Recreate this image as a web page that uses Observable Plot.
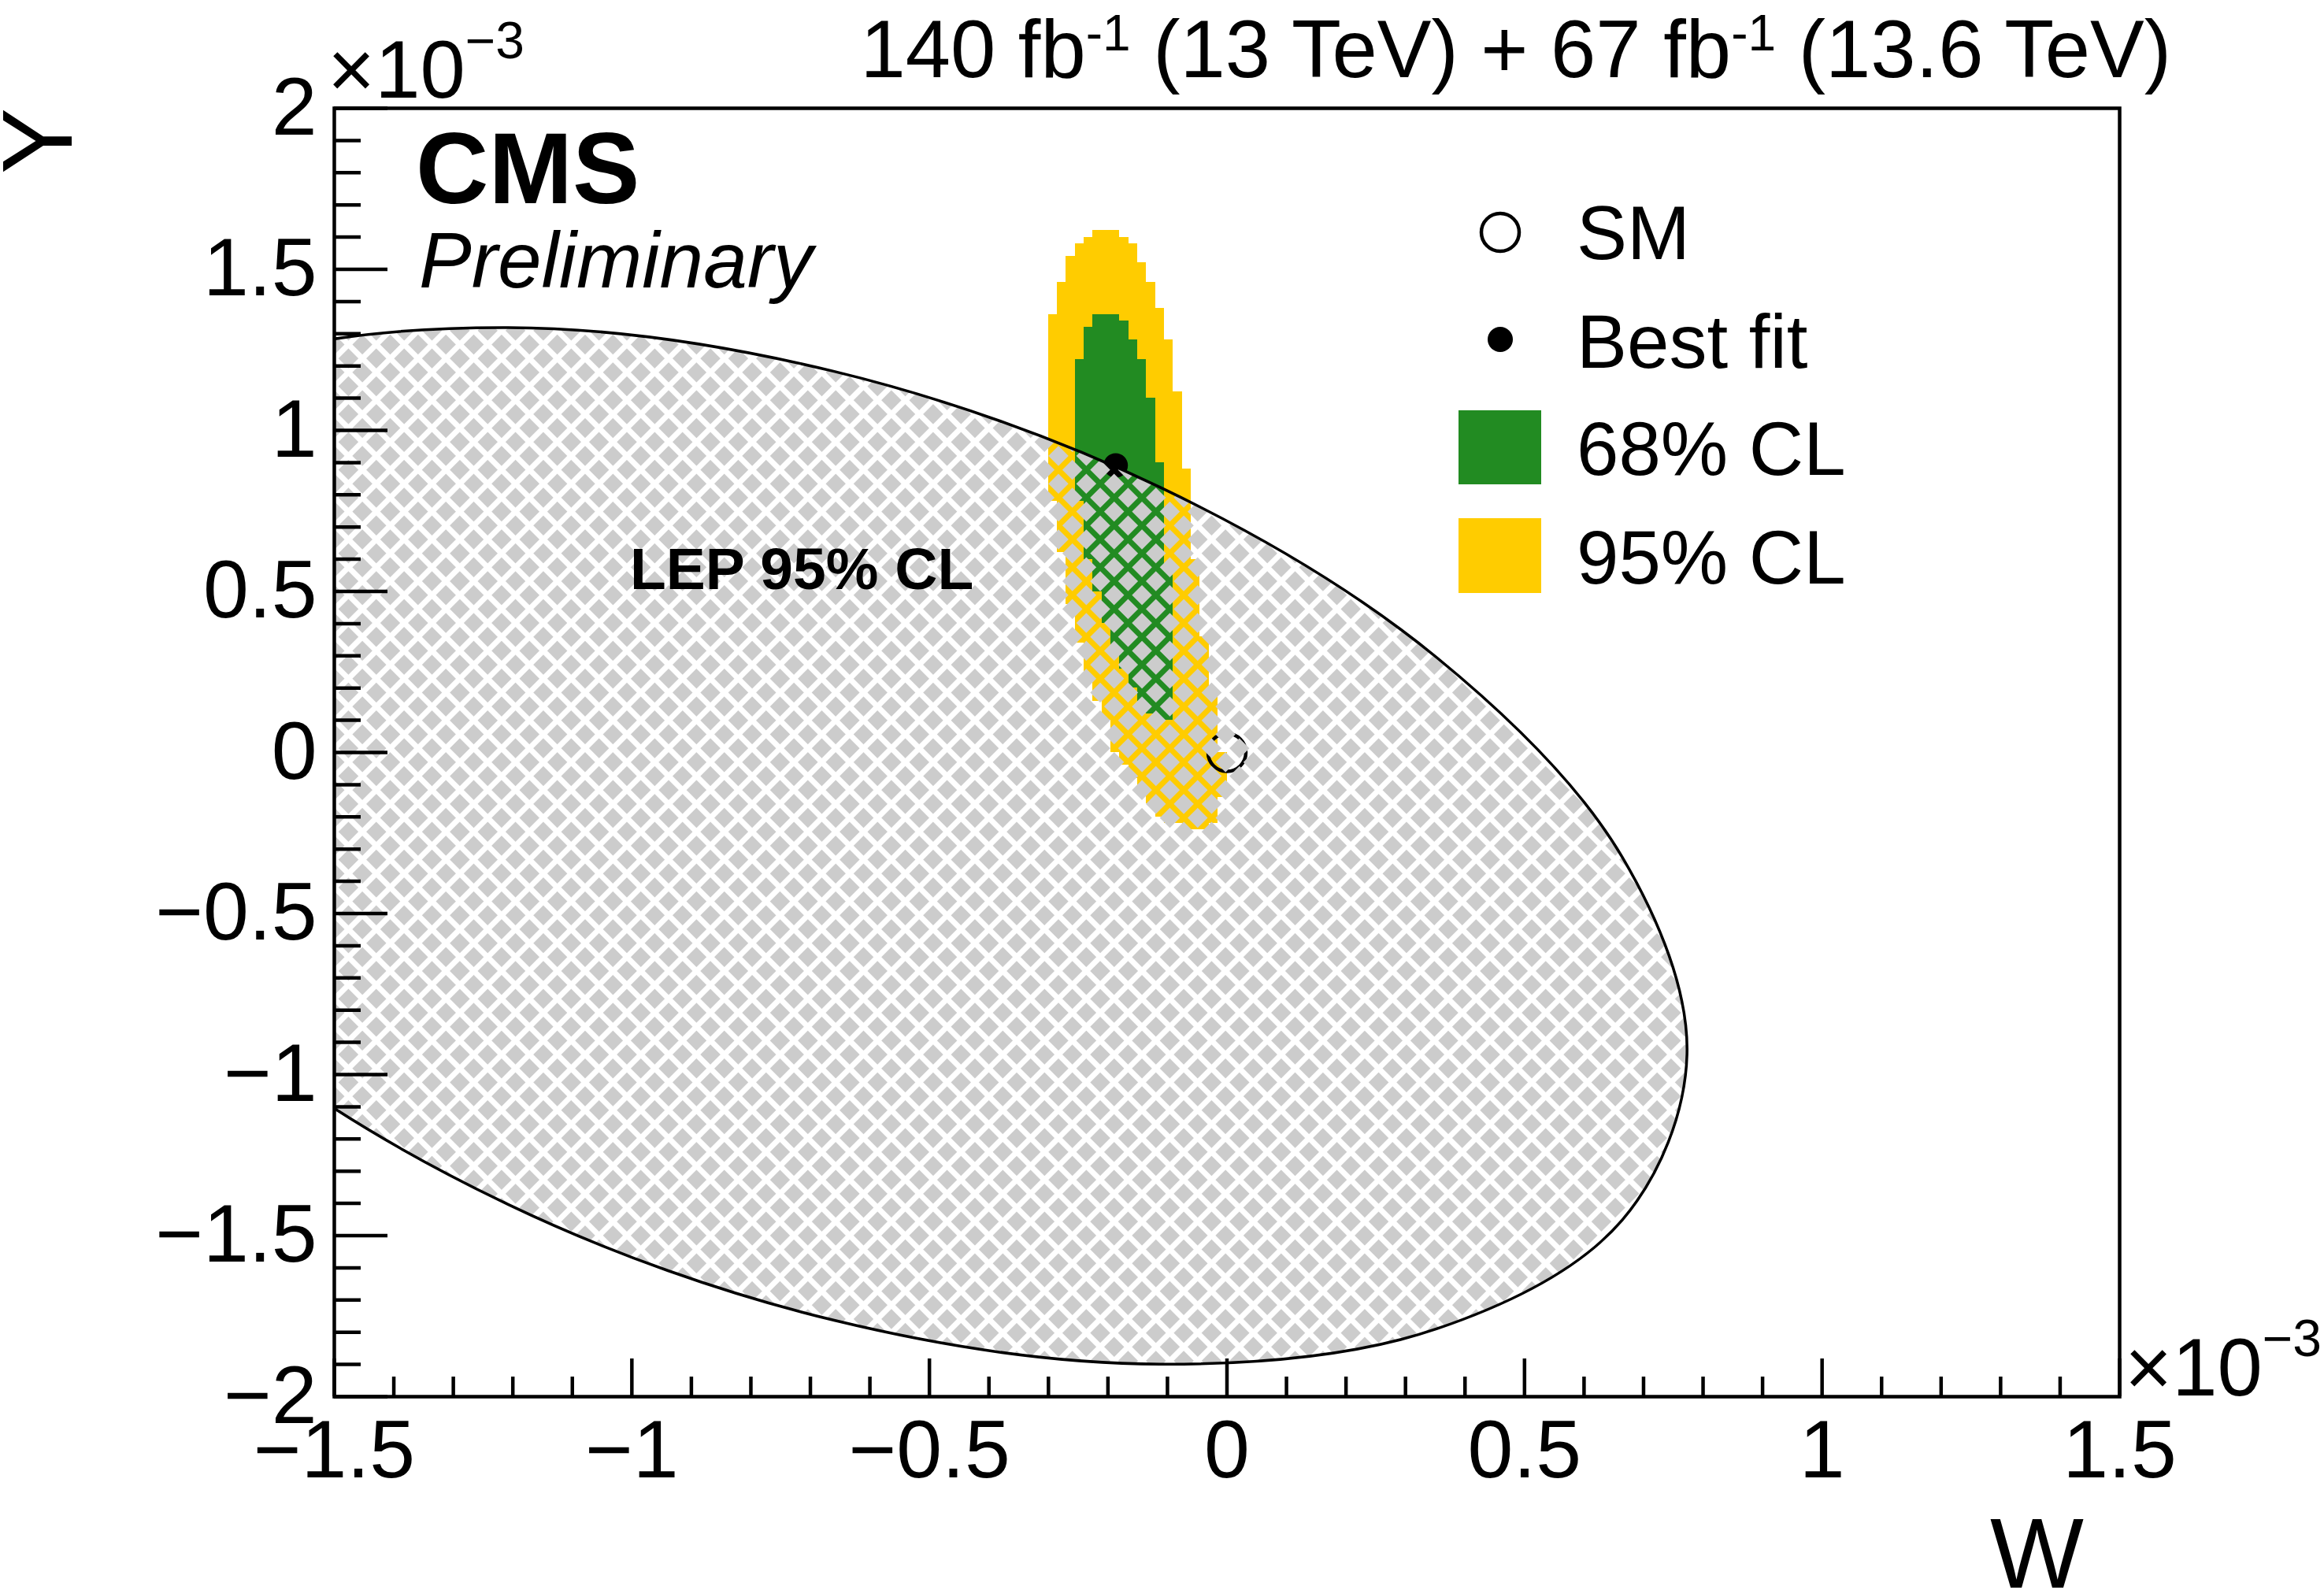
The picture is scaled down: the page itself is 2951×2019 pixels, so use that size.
<!DOCTYPE html>
<html>
<head>
<meta charset="utf-8">
<script src="https://cdn.jsdelivr.net/npm/d3@7"></script>
<script src="https://cdn.jsdelivr.net/npm/@observablehq/plot@0.6"></script>
<style>
html, body { margin: 0; padding: 0; background: #fff; overflow: hidden; }
svg { display: block; }
</style>
</head>
<body>
<div id="chart"></div>
<script>
// ---------- data (units of 10^-3) ----------
const xMajorTicks = [-1.5, -1, -0.5, 0, 0.5, 1, 1.5];
const xTickLabels = ["−1.5", "−1", "−0.5", "0", "0.5", "1", "1.5"];
const yMajorTicks = [-2, -1.5, -1, -0.5, 0, 0.5, 1, 1.5, 2];
const yTickLabels = ["−2", "−1.5", "−1", "−0.5", "0", "0.5", "1", "1.5", "2"];

// LEP 95% CL ellipse boundary points [W, Y]
const lepEllipse = [
  [0.773, -0.937], [0.664, -0.324], [0.353, 0.294], [-0.112, 0.823],
  [-0.660, 1.183], [-1.208, 1.319], [-1.673, 1.209], [-1.984, 0.872],
  [-2.093, 0.357], [-1.984, -0.256], [-1.673, -0.874], [-1.208, -1.403],
  [-0.660, -1.763], [-0.112, -1.899], [0.353, -1.789], [0.664, -1.452]
];

// 95% CL region, rows of [Y low, Y high, W left, W right]
const cl95Rows = [
  [1.60, 1.62, -0.225, -0.180],
  [1.58, 1.60, -0.240, -0.165],
  [1.54, 1.58, -0.255, -0.150],
  [1.52, 1.54, -0.270, -0.150],
  [1.46, 1.52, -0.270, -0.135],
  [1.38, 1.46, -0.285, -0.120],
  [1.36, 1.38, -0.285, -0.105],
  [1.28, 1.36, -0.300, -0.105],
  [1.12, 1.28, -0.300, -0.090],
  [0.88, 1.12, -0.300, -0.075],
  [0.78, 0.88, -0.300, -0.060],
  [0.62, 0.78, -0.285, -0.060],
  [0.60, 0.62, -0.270, -0.060],
  [0.46, 0.60, -0.270, -0.045],
  [0.36, 0.46, -0.255, -0.045],
  [0.34, 0.36, -0.255, -0.030],
  [0.24, 0.34, -0.240, -0.030],
  [0.18, 0.24, -0.225, -0.030],
  [0.16, 0.18, -0.225, -0.015],
  [0.10, 0.16, -0.210, -0.015],
  [0.00, 0.10, -0.195, -0.015],
  [-0.04, 0.00, -0.180, 0.000],
  [-0.08, -0.04, -0.165, 0.000],
  [-0.12, -0.08, -0.150, 0.000],
  [-0.14, -0.12, -0.135, 0.000],
  [-0.16, -0.14, -0.135, -0.015],
  [-0.20, -0.16, -0.120, -0.015],
  [-0.22, -0.20, -0.105, -0.015],
  [-0.24, -0.22, -0.075, -0.030]
];

// 68% CL region, rows of [Y low, Y high, W left, W right]
const cl68Rows = [
  [1.34, 1.36, -0.225, -0.180],
  [1.32, 1.34, -0.225, -0.165],
  [1.28, 1.32, -0.240, -0.165],
  [1.22, 1.28, -0.240, -0.150],
  [1.10, 1.22, -0.255, -0.135],
  [0.90, 1.10, -0.255, -0.120],
  [0.78, 0.90, -0.255, -0.105],
  [0.60, 0.78, -0.240, -0.105],
  [0.56, 0.60, -0.225, -0.105],
  [0.50, 0.56, -0.225, -0.090],
  [0.40, 0.50, -0.210, -0.090],
  [0.32, 0.40, -0.195, -0.090],
  [0.26, 0.32, -0.180, -0.090],
  [0.20, 0.26, -0.165, -0.090],
  [0.16, 0.20, -0.150, -0.090],
  [0.12, 0.16, -0.135, -0.090],
  [0.10, 0.12, -0.120, -0.090]
];

const smPoint = [{w: 0, y: 0}];
const bestFitPoint = [{w: -0.187, y: 0.891}];

const legendLabels = ["SM", "Best fit", "68% CL", "95% CL"];
const headerText = ["140 fb", "-1", " (13 TeV) + 67 fb", "-1", " (13.6 TeV)"];

// ---------- layout ----------
const FONT = "'Liberation Sans', Arial, Helvetica, sans-serif";
const W = 2951, H = 2019;
const mL = 424, mR = 260, mT = 137, mB = 246;
const fw = W - mL - mR, fh = H - mT - mB;
const GREEN = "#228b22", YELLOW = "#ffcc00";

const xMinor = d3.range(-15, 16).filter(i => i % 5 !== 0).map(i => i / 10);
const yMinor = d3.range(-20, 21).filter(i => i % 5 !== 0).map(i => i / 10);

const plot = Plot.plot({
  width: W, height: H,
  marginLeft: mL, marginRight: mR, marginTop: mT, marginBottom: mB,
  x: {domain: [-1.5, 1.5], axis: null},
  y: {domain: [-2, 2], axis: null},
  style: {fontFamily: FONT, background: "white", color: "black"},
  marks: [
    Plot.rect(cl95Rows, {x1: d => d[2], x2: d => d[3], y1: d => d[0], y2: d => d[1], fill: YELLOW, shapeRendering: "crispEdges"}),
    Plot.rect(cl68Rows, {x1: d => d[2], x2: d => d[3], y1: d => d[0], y2: d => d[1], fill: GREEN, shapeRendering: "crispEdges"}),
    Plot.dot(smPoint, {x: "w", y: "y", r: 24, stroke: "black", strokeWidth: 4.5, fill: "none"}),
    Plot.dot(bestFitPoint, {x: "w", y: "y", r: 15.5, fill: "black", stroke: "none"}),
    Plot.line(lepEllipse, {x: d => d[0], y: d => d[1], curve: "catmull-rom-closed", fill: "url(#lepHatch)", stroke: "black", strokeWidth: 3.5, clip: true}),
    Plot.frame({stroke: "black", strokeWidth: 4.5}),
    Plot.tickX(xMajorTicks, {x: d => d, insetTop: fh - 48, stroke: "black", strokeWidth: 4.5}),
    Plot.tickX(xMinor, {x: d => d, insetTop: fh - 25, stroke: "black", strokeWidth: 4.5}),
    Plot.tickY(yMajorTicks, {y: d => d, insetRight: fw - 68, stroke: "black", strokeWidth: 4.5}),
    Plot.tickY(yMinor, {y: d => d, insetRight: fw - 34, stroke: "black", strokeWidth: 4.5}),
    Plot.text(xMajorTicks, {x: d => d, text: (d, i) => xTickLabels[i], frameAnchor: "bottom", lineAnchor: "top", dy: 29, fontSize: 104}),
    Plot.text(yMajorTicks, {y: d => d, text: (d, i) => yTickLabels[i], frameAnchor: "left", textAnchor: "end", dx: -22, fontSize: 104})
  ]
});

document.getElementById("chart").appendChild(plot);

const svg = d3.select(plot);
const defs = svg.insert("defs", ":first-child");
const pat = defs.append("pattern")
  .attr("id", "lepHatch")
  .attr("patternUnits", "userSpaceOnUse")
  .attr("width", 25).attr("height", 25)
  .attr("patternTransform", "rotate(45)");
pat.append("rect").attr("x", 0).attr("y", 0).attr("width", 18).attr("height", 18).attr("fill", "#cccccc");

const ann = svg.append("g").attr("font-family", FONT).attr("fill", "black").attr("text-anchor", "start");

// header
const hdr = ann.append("text").attr("x", 2757).attr("y", 98).attr("text-anchor", "end").attr("font-size", 103);
hdr.append("tspan").text(headerText[0]);
hdr.append("tspan").attr("dy", -34).attr("font-size", 64).text(headerText[1]);
hdr.append("tspan").attr("dy", 34).text(headerText[2]);
hdr.append("tspan").attr("dy", -34).attr("font-size", 64).text(headerText[3]);
hdr.append("tspan").attr("dy", 34).text(headerText[4]);

// exponent labels
function expLabel(x, y) {
  const t = ann.append("text").attr("x", x).attr("y", y).attr("font-size", 103);
  t.append("tspan").text("×10");
  t.append("tspan").attr("dy", -50).attr("font-size", 66).text("−3");
}
expLabel(416, 124);
expLabel(2698, 1772);

// axis titles
ann.append("text").attr("x", 2646).attr("y", 2016).attr("text-anchor", "end").attr("font-size", 126).text("W");
ann.append("text").attr("transform", "translate(91,137) rotate(-90)").attr("text-anchor", "end").attr("font-size", 126).text("Y");

// CMS labels
ann.append("text").attr("x", 528).attr("y", 258).attr("font-size", 128).attr("font-weight", "bold").text("CMS");
ann.append("text").attr("x", 532).attr("y", 365).attr("font-size", 100).attr("font-style", "italic").text("Preliminary");
ann.append("text").attr("x", 800).attr("y", 748).attr("font-size", 75).attr("font-weight", "bold").text("LEP 95% CL");

// legend
const lg = ann.append("g");
lg.append("circle").attr("cx", 1905).attr("cy", 295).attr("r", 24).attr("fill", "none").attr("stroke", "black").attr("stroke-width", 4.5);
lg.append("circle").attr("cx", 1905).attr("cy", 431).attr("r", 16).attr("fill", "black");
lg.append("rect").attr("x", 1852).attr("y", 521).attr("width", 105).attr("height", 94).attr("fill", GREEN);
lg.append("rect").attr("x", 1852).attr("y", 658).attr("width", 105).attr("height", 95).attr("fill", YELLOW);
const lgBase = [329, 467, 603, 741];
legendLabels.forEach((s, i) => {
  lg.append("text").attr("x", 2002).attr("y", lgBase[i]).attr("font-size", 96).text(s);
});
</script>
</body>
</html>
